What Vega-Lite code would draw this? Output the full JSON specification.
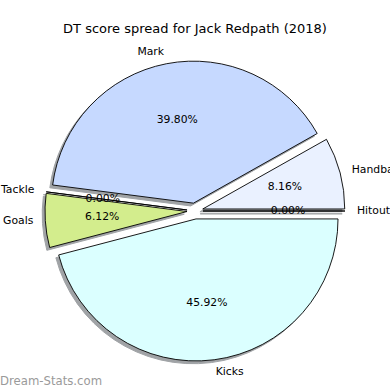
{
  "$schema": "https://vega.github.io/schema/vega-lite/v6.json",
  "width": 390,
  "height": 340,
  "autosize": {"type": "none"},
  "padding": {"left": 0, "right": 0, "top": 41, "bottom": 9},
  "title": {"text": "DT score spread for Jack Redpath (2018)", "font": "DejaVu Sans", "fontSize": 13, "fontWeight": "normal", "color": "#000000", "anchor": "middle", "offset": 5},
  "config": {"view": {"stroke": null}, "font": "DejaVu Sans"},
  "data": {"values": [
    {"cat": "Hitout", "ord": 1, "share": 0},
    {"cat": "Handball", "ord": 2, "share": 0.0816},
    {"cat": "Mark", "ord": 3, "share": 0.398},
    {"cat": "Tackle", "ord": 4, "share": 0},
    {"cat": "Goals", "ord": 5, "share": 0.0612},
    {"cat": "Kicks", "ord": 6, "share": 0.4592}
  ]},
  "layer": [
    {
      "transform": [{"stack": "share", "groupby": [], "sort": [{"field": "ord", "order": "ascending"}], "as": ["v0", "v1"]}],
      "mark": {"type": "arc", "outerRadius": 142, "fill": "#a0a3a6", "stroke": "#a0a3a6", "strokeWidth": 1,
        "xOffset": {"expr": "8*cos(PI*(datum.v0+datum.v1)) - 2.8"},
        "yOffset": {"expr": "-8*sin(PI*(datum.v0+datum.v1)) + 2.8"}},
      "encoding": {
        "theta": {"field": "v0", "type": "quantitative", "scale": {"domain": [0, 1], "range": [1.5707963, -4.712389]}},
        "theta2": {"field": "v1"}
      }
    },
    {
      "transform": [{"stack": "share", "groupby": [], "sort": [{"field": "ord", "order": "ascending"}], "as": ["v0", "v1"]}],
      "mark": {"type": "arc", "outerRadius": 142, "stroke": "#000000", "strokeWidth": 0.9,
        "xOffset": {"expr": "8*cos(PI*(datum.v0+datum.v1))"},
        "yOffset": {"expr": "-8*sin(PI*(datum.v0+datum.v1))"}},
      "encoding": {
        "theta": {"field": "v0", "type": "quantitative", "scale": {"domain": [0, 1], "range": [1.5707963, -4.712389]}},
        "theta2": {"field": "v1"},
        "color": {"field": "cat", "type": "nominal", "legend": null,
          "scale": {"domain": ["Hitout", "Handball", "Mark", "Tackle", "Goals", "Kicks"],
                    "range": ["#f0f0f0", "#eaf1ff", "#c6d9ff", "#f0f0f0", "#d3ed8d", "#dbffff"]}}
      }
    },
    {
      "mark": {"type": "text", "radius": 162, "align": "left", "baseline": "middle", "fontSize": 10.8, "font": "DejaVu Sans", "color": "#000000"},
      "encoding": {
        "theta": {"field": "share", "type": "quantitative", "stack": true, "scale": {"domain": [0, 1], "range": [1.5707963, -4.712389]}},
        "order": {"field": "ord", "type": "quantitative"},
        "text": {"condition": {"test": "indexof(['Hitout','Handball','Kicks'], datum.cat) >= 0", "field": "cat", "type": "nominal"}, "value": ""}
      }
    },
    {
      "mark": {"type": "text", "radius": 162, "align": "right", "baseline": "middle", "fontSize": 10.8, "font": "DejaVu Sans", "color": "#000000"},
      "encoding": {
        "theta": {"field": "share", "type": "quantitative", "stack": true, "scale": {"domain": [0, 1], "range": [1.5707963, -4.712389]}},
        "order": {"field": "ord", "type": "quantitative"},
        "text": {"condition": {"test": "indexof(['Mark','Tackle','Goals'], datum.cat) >= 0", "field": "cat", "type": "nominal"}, "value": ""}
      }
    },
    {
      "mark": {"type": "text", "radius": 93, "align": "center", "baseline": "middle", "fontSize": 10.8, "font": "DejaVu Sans", "color": "#000000"},
      "encoding": {
        "theta": {"field": "share", "type": "quantitative", "stack": true, "scale": {"domain": [0, 1], "range": [1.5707963, -4.712389]}},
        "order": {"field": "ord", "type": "quantitative"},
        "text": {"field": "share", "type": "quantitative", "format": ".2%"}
      }
    },
    {
      "data": {"values": [{"mark_text": "Dream-Stats.com"}]},
      "mark": {"type": "text", "align": "left", "baseline": "alphabetic", "fontSize": 11.7, "font": "DejaVu Sans", "color": "#9a9a9a"},
      "encoding": {
        "x": {"value": 0},
        "y": {"value": 344},
        "text": {"field": "mark_text", "type": "nominal"}
      }
    }
  ]
}
